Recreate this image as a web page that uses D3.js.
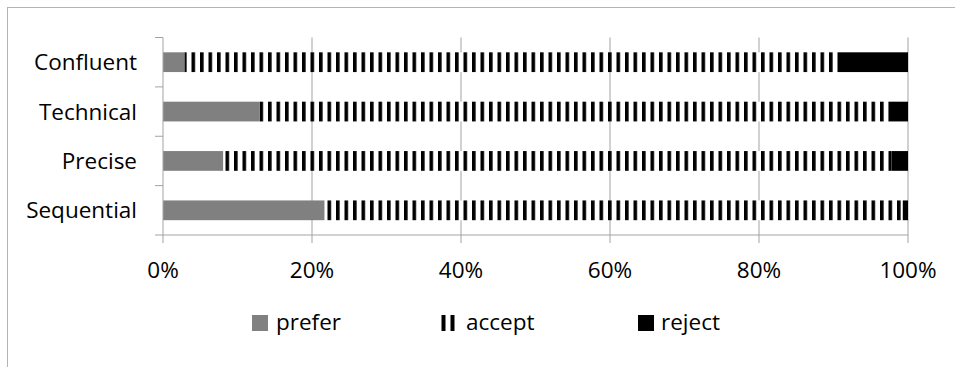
<!DOCTYPE html>
<html>
<head>
<meta charset="utf-8">
<script src="https://cdn.jsdelivr.net/npm/d3@7"></script>
<style>
  html, body { margin: 0; padding: 0; background: #fff; }
  svg { display: block; }
  text { font-family: "Open Sans", "Noto Sans", sans-serif; fill: #000; }
</style>
</head>
<body>
<svg id="chart" width="955" height="367"></svg>
<script>
// Response shares (percent) per writing style
const categories = ["Confluent", "Technical", "Precise", "Sequential"];
const seriesNames = ["prefer", "accept", "reject"];
const prefer = [2.9, 12.9, 8.1, 21.7];
const accept = [87.7, 84.5, 89.7, 77.6];
const reject = [9.4, 2.6, 2.2, 0.7];
const xTicks = [0, 20, 40, 60, 80, 100];

const rows = categories.map((c, i) => ({
  category: c, prefer: prefer[i], accept: accept[i], reject: reject[i]
}));

const svg = d3.select("#chart");
const W = 955, H = 367;
const margin = { left: 163, right: 47, top: 37.5, bottom: 132 };
const plotW = W - margin.left - margin.right;
const plotH = H - margin.top - margin.bottom;
const fontSize = 22.5;
const lineColor = "#a3a3a3";

// outer chart frame
svg.append("rect")
  .attr("x", 7.5).attr("y", 7.5)
  .attr("width", W).attr("height", H)
  .attr("fill", "none").attr("stroke", "#b4b4b4").attr("stroke-width", 1);

// striped fill for "accept"
const defs = svg.append("defs");
const pat = defs.append("pattern")
  .attr("id", "stripes")
  .attr("patternUnits", "userSpaceOnUse")
  .attr("x", margin.left + 1.5).attr("y", 0)
  .attr("width", 8.5).attr("height", 10);
pat.append("rect").attr("width", 8.5).attr("height", 10).attr("fill", "#fff");
pat.append("rect").attr("x", 0).attr("width", 3.6).attr("height", 10).attr("fill", "#000");

const fills = { prefer: "#808080", accept: "url(#stripes)", reject: "#000" };

const g = svg.append("g").attr("transform", `translate(${margin.left},${margin.top})`);

const x = d3.scaleLinear().domain([0, 100]).range([0, plotW]);
const y = d3.scaleBand().domain(categories).range([0, plotH]).paddingInner(0.6).paddingOuter(0.3);
const yEdge = d3.scaleBand().domain(categories).range([0, plotH]);

// vertical gridlines
g.append("g").selectAll("line")
  .data(xTicks.filter(t => t > 0))
  .join("line")
  .attr("x1", d => x(d)).attr("x2", d => x(d))
  .attr("y1", 0).attr("y2", plotH)
  .attr("stroke", lineColor).attr("stroke-width", 1);

// stacked bars
const stack = d3.stack().keys(seriesNames);
const layers = stack(rows);
g.append("g").selectAll("g")
  .data(layers)
  .join("g")
  .attr("fill", d => fills[d.key])
  .selectAll("rect")
  .data(d => d)
  .join("rect")
  .attr("x", d => x(d[0]))
  .attr("width", d => x(d[1]) - x(d[0]))
  .attr("y", d => y(d.data.category))
  .attr("height", y.bandwidth());

// category axis (left)
const yAxis = g.append("g");
yAxis.append("line")
  .attr("x1", 0).attr("x2", 0).attr("y1", 0).attr("y2", plotH)
  .attr("stroke", lineColor);
const edges = categories.map(c => yEdge(c)).concat([plotH]);
yAxis.selectAll("line.tick")
  .data(edges)
  .join("line").attr("class", "tick")
  .attr("x1", -8).attr("x2", 0)
  .attr("y1", d => d).attr("y2", d => d)
  .attr("stroke", lineColor);
yAxis.selectAll("text")
  .data(categories)
  .join("text")
  .attr("x", -26)
  .attr("y", d => y(d) + y.bandwidth() / 2)
  .attr("dy", "0.36em")
  .attr("text-anchor", "end")
  .attr("font-size", fontSize)
  .text(d => d);

// value axis (bottom)
const xAxis = g.append("g").attr("transform", `translate(0,${plotH})`);
xAxis.append("line").attr("x1", 0).attr("x2", plotW).attr("stroke", lineColor);
xAxis.selectAll("line.tick")
  .data(xTicks)
  .join("line").attr("class", "tick")
  .attr("x1", d => x(d)).attr("x2", d => x(d))
  .attr("y1", 0).attr("y2", 8)
  .attr("stroke", lineColor);
xAxis.selectAll("text")
  .data(xTicks)
  .join("text")
  .attr("x", d => x(d))
  .attr("y", 43)
  .attr("text-anchor", "middle")
  .attr("font-size", fontSize)
  .text(d => d + "%");

// legend
const legendItems = [
  { key: "prefer", sx: 252, tx: 276 },
  { key: "accept", sx: 441.5, tx: 466 },
  { key: "reject", sx: 638, tx: 661 }
];
const legend = svg.append("g");
legendItems.forEach(item => {
  if (item.key === "accept") {
    legend.append("rect").attr("x", item.sx).attr("y", 315).attr("width", 4).attr("height", 16).attr("fill", "#000");
    legend.append("rect").attr("x", item.sx + 9).attr("y", 315).attr("width", 4).attr("height", 16).attr("fill", "#000");
  } else {
    legend.append("rect").attr("x", item.sx).attr("y", 315).attr("width", 16).attr("height", 16).attr("fill", fills[item.key]);
  }
  legend.append("text")
    .attr("x", item.tx).attr("y", 330)
    .attr("font-size", fontSize)
    .text(item.key);
});
</script>
</body>
</html>
